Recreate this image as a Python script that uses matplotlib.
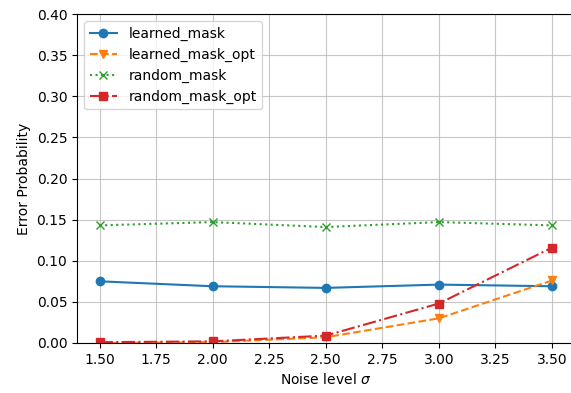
import numpy as np
import matplotlib
matplotlib.use("Agg")
import matplotlib.pyplot as plt

# noise levels
sigma = [1.5, 2.0, 2.5, 3.0, 3.5]

learned_mask = [0.075, 0.069, 0.067, 0.071, 0.069]
learned_mask_opt = [0.0, 0.001, 0.007, 0.030, 0.076]
random_mask = [0.143, 0.147, 0.141, 0.147, 0.143]
random_mask_opt = [0.001, 0.002, 0.009, 0.048, 0.116]

fig = plt.figure(figsize=(5.71, 3.93), dpi=100)
ax = fig.add_axes([77 / 571, 1 - 343 / 393, (574.6 - 77) / 571, (343 - 14) / 393])

ax.plot(sigma, learned_mask, "-o", color="C0", label="learned_mask")
ax.plot(sigma, learned_mask_opt, "--v", color="C1", label="learned_mask_opt")
ax.plot(sigma, random_mask, ":x", color="C2", label="random_mask")
ax.plot(sigma, random_mask_opt, "-.s", color="C3", label="random_mask_opt")

ax.set_xlim(1.4, 3.6)
ax.set_ylim(0, 0.4)
ax.set_xlabel(r"Noise level $\sigma$")
ax.set_ylabel("Error Probability")
ax.grid(True, alpha=0.7)
ax.spines["right"].set_visible(False)
ax.legend(loc="upper left")

fig.savefig("out.png", dpi=100)
